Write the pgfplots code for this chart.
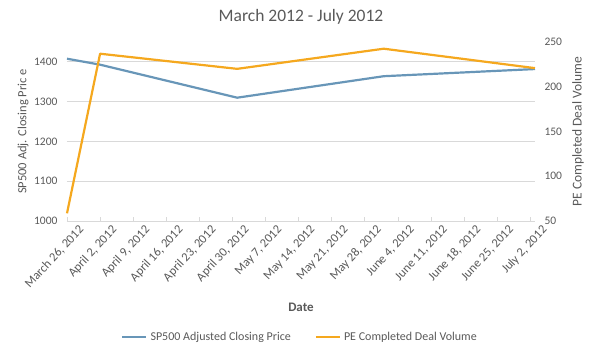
\documentclass[border=0pt]{standalone}
\usepackage{pgfplots}
\pgfplotsset{compat=1.18}
\usepackage{fontspec}
\setmainfont{Carlito}
\definecolor{sp}{RGB}{104,150,184}
\definecolor{pe}{RGB}{245,168,30}
\definecolor{txt}{RGB}{89,89,89}
\definecolor{grd}{RGB}{217,217,217}
\begin{document}
\begin{tikzpicture}
\useasboundingbox (-67pt,-132pt) rectangle (533pt,221pt);
\pgfplotsset{
  common/.style={
    at={(0pt,0pt)}, anchor=south west,
    scale only axis, width=468pt, height=179pt,
    xmin=0, xmax=99,
    xtick={0,7,14,21,28,35,42,49,56,63,70,77,84,91,98},
    tick label style={font=\fontsize{11.5}{13}\selectfont, text=txt},
    /pgf/number format/assume math mode=true,
    /pgf/number format/set thousands separator={},
    label style={font=\fontsize{12.5}{14}\selectfont, text=txt},
  }
}
\begin{axis}[common,
  axis x line*=bottom, axis y line*=left,
  ymin=1000, ymax=1450, ytick={1000,1100,1200,1300,1400},
  ymajorgrids, grid style={grd, line width=0.8pt},
  y axis line style={draw=none},
  x axis line style={draw=grd, line width=0.8pt},
  major tick length=4pt,
  xtick style={draw=grd, line width=0.8pt},
  ytick style={draw=none},
  yticklabel style={xshift=-6pt},
  xticklabels={{March 26, 2012},{April 2, 2012},{April 9, 2012},{April 16, 2012},{April 23, 2012},{April 30, 2012},{May 7, 2012},{May 14, 2012},{May 21, 2012},{May 28, 2012},{June 4, 2012},{June 11, 2012},{June 18, 2012},{June 25, 2012},{July 2, 2012}},
  xticklabel style={rotate=47, anchor=north east, inner sep=0pt, xshift=5pt, yshift=-10pt, font=\fontsize{12.5}{14}\selectfont},
  ylabel={SP500 Adj. Closing Pric e},
  ylabel style={at={(axis description cs:-0.094,0.5)}, anchor=center},
  xlabel={\textbf{Date}},
  xlabel style={at={(axis description cs:0.5,-0.48)}, anchor=center, font=\fontsize{13}{15}\selectfont},
  clip=false,
]
\addplot[sp, line width=2.2pt, line join=round] coordinates {
  (0,1408) (7,1393) (36,1310) (67,1364) (99,1382)
};
\node[font=\fontsize{17.5}{20}\selectfont, text=txt] at (axis description cs:0.5,1.14) {March 2012 - July 2012};
\end{axis}
\begin{axis}[common,
  axis x line=none, axis y line*=right,
  ymin=50, ymax=250, ytick={50,100,150,200,250},
  y axis line style={draw=none},
  ytick style={draw=none},
  yticklabel style={xshift=6pt},
  xticklabels={},
  ylabel={PE Completed Deal Volume},
  ylabel style={at={(axis description cs:1.092,0.5)}, anchor=center, font=\fontsize{13.5}{15}\selectfont},
  legend style={at={(0.498,0)}, anchor=center, yshift=-116pt, draw=none, fill=none,
    legend columns=2, font=\fontsize{12}{14}\selectfont, text=txt,
    /tikz/every even column/.append style={column sep=22pt},
    /tikz/every odd column/.append style={column sep=1pt}},
  legend image code/.code={\draw[#1, line width=2.2pt] (0pt,0pt) -- (24pt,0pt);},
  clip=false,
]
\addlegendimage{sp}
\addlegendentry{SP500 Adjusted Closing Price}
\addplot[pe, line width=2.2pt, line join=round] coordinates {
  (0,58.6) (7,236.9) (36,220) (67,242.5) (99,220.8)
};
\addlegendentry{PE Completed Deal Volume}
\end{axis}
\end{tikzpicture}
\end{document}
